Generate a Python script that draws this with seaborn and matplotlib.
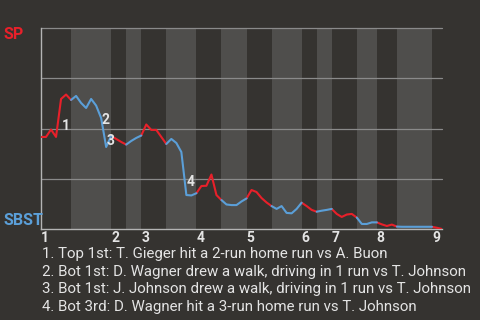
import matplotlib
matplotlib.use("Agg")
import matplotlib.pyplot as plt
import matplotlib.transforms as mtransforms
import numpy as np
import pandas as pd
import seaborn as sns

# ---------------- data ----------------
# plays per half-inning (Top 1, Bot 1, Top 2, ... Top 9)
half_plays = [6, 8, 3, 3, 5, 6, 5, 5, 5, 6, 3, 3, 5, 4, 4, 7, 2]
# win probability of SP (top team) after each play (index 0 = start)
wp = [0.458, 0.458, 0.495, 0.458, 0.647, 0.669, 0.642,
      0.662, 0.627, 0.602, 0.647, 0.614, 0.552, 0.408, 0.463,
      0.448, 0.433, 0.420,
      0.438, 0.453, 0.465,
      0.520, 0.493, 0.493, 0.458, 0.423,
      0.448, 0.428, 0.383, 0.169, 0.167, 0.178,
      0.214, 0.215, 0.271, 0.169, 0.144,
      0.122, 0.119, 0.119, 0.137, 0.152,
      0.194, 0.184, 0.154, 0.132, 0.114,
      0.100, 0.114, 0.080, 0.078, 0.100, 0.131,
      0.114, 0.095, 0.086,
      0.091, 0.095, 0.100,
      0.075, 0.060, 0.072, 0.075, 0.057,
      0.025, 0.025, 0.033, 0.033,
      0.023, 0.015, 0.022, 0.012,
      0.011, 0.011, 0.011, 0.011, 0.011, 0.011, 0.011,
      0.006, 0.0]
teams = ["SP", "SBST"]
event_plays = [4, 12, 13, 29]
event_labels = ["1", "2", "3", "4"]
event_texts = [
    "1. Top 1st: T. Gieger hit a 2-run home run vs A. Buon",
    "2. Bot 1st: D. Wagner drew a walk, driving in 1 run vs T. Johnson",
    "3. Bot 1st: J. Johnson drew a walk, driving in 1 run vs T. Johnson",
    "4. Bot 3rd: D. Wagner hit a 3-run home run vs T. Johnson",
]

# ---------------- style ----------------
BG = "#353330"
BAND = "#4f4e4c"
GRID = "#8a8a8a"
AXIS = "#b4b4b4"
RED = "#e8202a"
BLUE = "#5b9fd8"
TXT = "#e4e4e4"

sns.set_style("dark")
plt.rcParams["font.family"] = ["Roboto", "DejaVu Sans"]

fig = plt.figure(figsize=(4.8, 3.2), dpi=100, facecolor=BG)
ax = fig.add_axes([41 / 480, 91 / 320, 401 / 480, 201 / 320])
ax.set_facecolor(BG)

bounds = np.concatenate([[0], np.cumsum(half_plays)])

# shaded bottom halves
for h in range(len(half_plays)):
    if h % 2 == 1:
        ax.axvspan(bounds[h], bounds[h + 1], color=BAND, lw=0, zorder=0)

# grid lines
for v in [0.25, 0.5, 0.75, 1.0]:
    ax.axhline(v, color=GRID, lw=0.9, zorder=1, clip_on=False)

# build segment table
rows = []
for h in range(len(half_plays)):
    for p in range(bounds[h], bounds[h + 1] + 1):
        rows.append({"play": p, "wp": wp[p], "seg": h, "team": teams[h % 2]})
df = pd.DataFrame(rows)

sns.lineplot(data=df, x="play", y="wp", hue="team", units="seg",
             estimator=None, sort=False, legend=False,
             palette={"SP": RED, "SBST": BLUE}, lw=1.5, zorder=3, ax=ax)

ax.set_xlim(0, bounds[-1])
ax.set_ylim(0, 1)
ax.set_xticks([])
ax.set_yticks([])
ax.set_xlabel("")
ax.set_ylabel("")
ax.grid(False)
for s in ["top", "right"]:
    ax.spines[s].set_visible(False)
for s in ["left", "bottom"]:
    ax.spines[s].set_visible(True)
    ax.spines[s].set_color(AXIS)
    ax.spines[s].set_linewidth(1.0)

# event markers
for p, lab in zip(event_plays, event_labels):
    mx = p - 0.5
    my = (wp[p - 1] + wp[p]) / 2
    ax.annotate(lab, (mx, my), xytext=(2, -6), textcoords="offset points",
                ha="left", va="center", fontsize=10, fontweight="bold",
                color=TXT, zorder=4)

# inning labels
trans = mtransforms.blended_transform_factory(ax.transData, fig.transFigure)
for h in range(0, len(half_plays), 2):
    ax.text(bounds[h], (320 - 241.7) / 320, str(h // 2 + 1), transform=trans,
            ha="left", va="baseline", fontsize=10, fontweight="bold", color=TXT)

# team labels
fig.text(3 / 480, (320 - 39.3) / 320, "SP", color=RED, fontsize=11.5,
         fontweight="bold", ha="left", va="baseline")
fig.text(3 / 480, (320 - 225) / 320, "SBST", color=BLUE, fontsize=11.5,
         fontweight="bold", ha="left", va="baseline")

# event descriptions
baselines = [257.7, 275.6, 293.4, 311.2]
for t, b in zip(event_texts, baselines):
    fig.text(42 / 480, (320 - b) / 320, t, color=TXT, fontsize=10.8,
             ha="left", va="baseline")

fig.savefig("out.png", dpi=100, facecolor=BG)
